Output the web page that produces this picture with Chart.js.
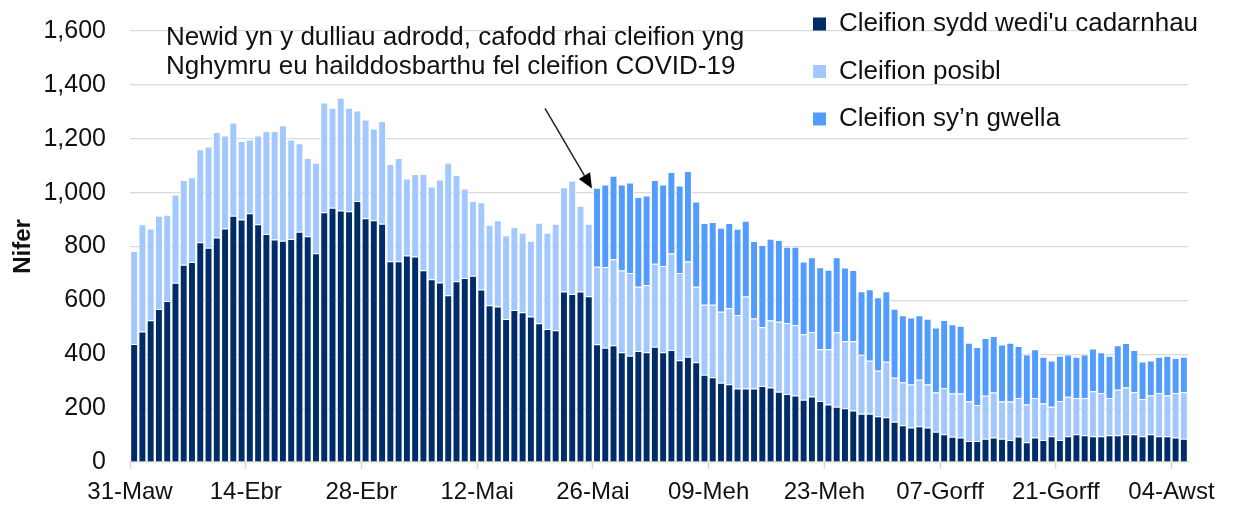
<!DOCTYPE html>
<html><head><meta charset="utf-8">
<script src="https://cdn.jsdelivr.net/npm/chart.js@4.4.0/dist/chart.umd.min.js"></script>
<style>html,body{margin:0;padding:0;background:#fff;}#wrap{width:1236px;height:507px;}</style>
</head><body><div id="wrap"><canvas id="c" width="1236" height="507"></canvas></div>
<script>
const categories = [
'31-Maw',
'01-Ebr','02-Ebr','03-Ebr','04-Ebr','05-Ebr','06-Ebr','07-Ebr','08-Ebr','09-Ebr','10-Ebr','11-Ebr','12-Ebr','13-Ebr','14-Ebr','15-Ebr','16-Ebr','17-Ebr','18-Ebr','19-Ebr','20-Ebr','21-Ebr','22-Ebr','23-Ebr','24-Ebr','25-Ebr','26-Ebr','27-Ebr','28-Ebr','29-Ebr','30-Ebr',
'01-Mai','02-Mai','03-Mai','04-Mai','05-Mai','06-Mai','07-Mai','08-Mai','09-Mai','10-Mai','11-Mai','12-Mai','13-Mai','14-Mai','15-Mai','16-Mai','17-Mai','18-Mai','19-Mai','20-Mai','21-Mai','22-Mai','23-Mai','24-Mai','25-Mai','26-Mai','27-Mai','28-Mai','29-Mai','30-Mai','31-Mai',
'01-Meh','02-Meh','03-Meh','04-Meh','05-Meh','06-Meh','07-Meh','08-Meh','09-Meh','10-Meh','11-Meh','12-Meh','13-Meh','14-Meh','15-Meh','16-Meh','17-Meh','18-Meh','19-Meh','20-Meh','21-Meh','22-Meh','23-Meh','24-Meh','25-Meh','26-Meh','27-Meh','28-Meh','29-Meh','30-Meh',
'01-Gorff','02-Gorff','03-Gorff','04-Gorff','05-Gorff','06-Gorff','07-Gorff','08-Gorff','09-Gorff','10-Gorff','11-Gorff','12-Gorff','13-Gorff','14-Gorff','15-Gorff','16-Gorff','17-Gorff','18-Gorff','19-Gorff','20-Gorff','21-Gorff','22-Gorff','23-Gorff','24-Gorff','25-Gorff','26-Gorff','27-Gorff','28-Gorff','29-Gorff','30-Gorff','31-Gorff',
'01-Awst','02-Awst','03-Awst','04-Awst','05-Awst'
];
const tickLabels = ['31-Maw','14-Ebr','28-Ebr','12-Mai','26-Mai','09-Meh','23-Meh','07-Gorff','21-Gorff','04-Awst'];

const confirmed = [
438,484,526,568,598,665,732,742,816,795,
833,867,914,900,923,883,846,826,821,828,
855,838,775,927,944,934,931,969,905,897,
884,745,745,767,763,712,678,666,619,671,
683,691,640,582,577,531,564,556,540,515,
494,489,633,624,633,615,437,424,433,407,
394,412,407,428,407,416,378,391,370,324,
315,294,289,273,273,273,282,277,261,252,
247,231,243,226,213,205,200,191,179,179,
170,166,149,136,128,133,128,112,103,94,
91,78,78,86,91,86,82,95,73,91,
82,96,82,96,103,99,96,96,99,99,
103,103,96,103,96,96,91,86
];
const possible = [
345,399,341,346,320,328,315,315,345,376,
392,345,346,292,274,329,383,403,429,369,
328,291,336,408,371,418,384,336,366,341,
382,361,384,285,306,357,345,383,492,394,
332,278,324,299,320,311,308,295,281,373,
357,395,387,420,318,269,288,300,320,304,
308,239,249,308,321,358,324,353,281,260,
269,264,282,273,341,260,218,248,260,264,
262,243,240,193,206,277,248,257,219,197,
169,206,164,160,160,172,160,146,172,160,
163,147,134,160,167,139,143,143,140,147,
135,109,144,146,135,139,167,160,139,169,
174,156,138,144,160,151,165,173
];
const recovering = [
null,null,null,null,null,null,null,null,null,null,
null,null,null,null,null,null,null,null,null,null,
null,null,null,null,null,null,null,null,null,null,
null,null,null,null,null,null,null,null,null,null,
null,null,null,null,null,null,null,null,null,null,
null,null,null,null,null,null,293,306,310,319,
336,333,333,311,302,303,324,336,316,303,
307,312,316,320,282,287,306,304,303,283,
290,270,277,304,295,278,274,265,236,265,
273,262,256,249,248,240,244,241,252,257,
252,218,215,214,210,211,218,193,186,181,
174,172,168,157,153,161,158,151,156,165,
165,157,139,130,135,147,130,132
];
const seriesNames = ["Cleifion sydd wedi'u cadarnhau", "Cleifion posibl", "Cleifion sy\u2019n gwella"];
const seriesColors = ['#002D6A', '#A3C8FF', '#529BFF'];
const yTitle = 'Nifer';
const annotationLines = ['Newid yn y dulliau adrodd, cafodd rhai cleifion yng', 'Nghymru eu hailddosbarthu fel cleifion COVID-19'];
const tickEvery = 14;

const FONT = '"Liberation Sans", Arial, sans-serif';
const TXT = '#111111';

const legendShift = {
  id: 'legendShift',
  afterLayout(chart) {
    const lg = chart.legend;
    if (!lg) return;
    const p = lg.options.labels.padding;
    const w = lg.width;
    lg.left = 813 - p;
    lg.right = lg.left + w;
    lg.top = 11 - p;
    lg.bottom = lg.top + 480;
  }
};

const annot = {
  id: 'annot',
  afterDraw(chart) {
    const {ctx, chartArea, scales: {x, y}} = chart;
    ctx.save();
    ctx.font = '26px ' + FONT;
    ctx.fillStyle = TXT;
    ctx.textBaseline = 'middle';
    ctx.textAlign = 'left';
    annotationLines.forEach((t, i) => ctx.fillText(t, chartArea.left + 36, 38 + i * 29));
    const tipX = x.getPixelForValue(56) - 5, tipY = y.getPixelForValue(1015);
    const sx = tipX - 47, sy = y.getPixelForValue(1313);
    const ang = Math.atan2(tipY - sy, tipX - sx);
    const hl = 15, hw = 6.5;
    const bx = tipX - hl * Math.cos(ang), by = tipY - hl * Math.sin(ang);
    ctx.strokeStyle = '#222';
    ctx.lineWidth = 1.5;
    ctx.beginPath(); ctx.moveTo(sx, sy); ctx.lineTo(bx, by); ctx.stroke();
    ctx.fillStyle = '#000';
    ctx.beginPath();
    ctx.moveTo(tipX, tipY);
    ctx.lineTo(bx + hw * Math.sin(ang), by - hw * Math.cos(ang));
    ctx.lineTo(bx - hw * Math.sin(ang), by + hw * Math.cos(ang));
    ctx.closePath(); ctx.fill();
    ctx.restore();
  }
};

const mk = (label, data, color) => ({
  label, data, backgroundColor: color, borderColor: '#ffffff', borderWidth: 1,
  barPercentage: 0.96, categoryPercentage: 1.0, stack: 's'
});

new Chart(document.getElementById('c'), {
  type: 'bar',
  data: {
    labels: categories,
    datasets: [
      mk(seriesNames[0], confirmed, seriesColors[0]),
      mk(seriesNames[1], possible, seriesColors[1]),
      mk(seriesNames[2], recovering, seriesColors[2])
    ]
  },
  options: {
    responsive: false,
    animation: false,
    devicePixelRatio: 1,
    layout: { padding: { left: 0, right: 48, top: 31, bottom: 0 } },
    plugins: {
      tooltip: { enabled: false },
      legend: {
        position: 'chartArea',
        align: 'start',
        labels: {
          boxWidth: 13, boxHeight: 13, padding: 21.5, color: TXT,
          font: { size: 26, family: FONT },
          generateLabels: (chart) => Chart.defaults.plugins.legend.labels.generateLabels(chart)
            .map(l => Object.assign(l, { lineWidth: 0, strokeStyle: l.fillStyle }))
        }
      }
    },
    scales: {
      x: {
        stacked: true,
        offset: true,
        grid: {
          offset: true, drawOnChartArea: false, drawTicks: true, tickLength: 7,
          tickColor: (c) => (c.index % tickEvery === 0 ? '#d9d9d9' : 'rgba(0,0,0,0)'),
          tickWidth: 1.5
        },
        border: { display: true, color: '#d9d9d9', width: 1.5 },
        ticks: {
          autoSkip: false, maxRotation: 0, minRotation: 0, padding: 9,
          labelOffset: -4.13, color: TXT,
          font: { size: 24, family: FONT },
          callback: (v, i) => (i % tickEvery === 0 ? tickLabels[i / tickEvery] : '')
        },
        afterFit: (s) => { s.height = 45; }
      },
      y: {
        stacked: true,
        min: 0, max: 1600,
        grid: { color: '#d9d9d9', lineWidth: 1.2, drawTicks: false },
        border: { display: false },
        ticks: {
          stepSize: 200, padding: 24, color: TXT,
          font: { size: 25, family: FONT },
          callback: (v) => v.toLocaleString('en-US')
        },
        title: {
          display: true, text: yTitle, color: TXT,
          font: { size: 24, weight: 'bold', family: FONT },
          padding: { top: 9, bottom: 0 }
        },
        afterFit: (s) => { s.width = 130; s.paddingTop = 0; s.paddingBottom = 0; }
      }
    }
  },
  plugins: [legendShift, annot]
});
</script></body></html>
